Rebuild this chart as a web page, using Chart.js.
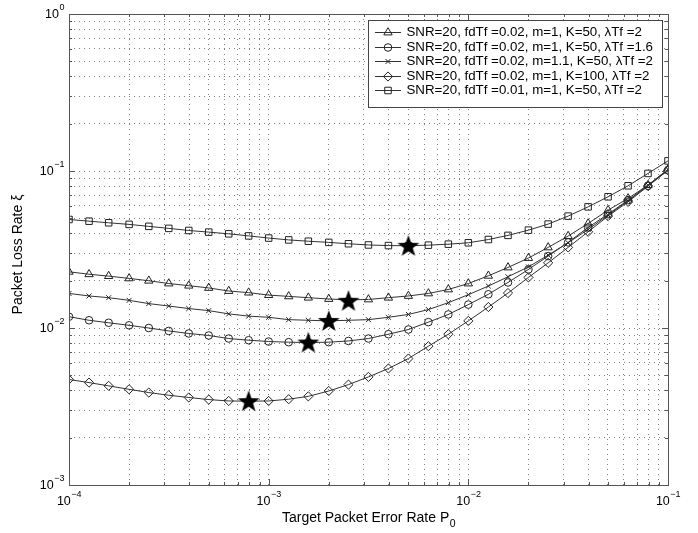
<!DOCTYPE html>
<html><head><meta charset="utf-8">
<script src="https://cdn.jsdelivr.net/npm/chart.js@4.4.1/dist/chart.umd.min.js"></script>
<style>html,body{margin:0;padding:0;background:#fff;}</style>
</head><body>
<canvas id="c" width="698" height="533"></canvas>
<script>
// ---- data ----
const P0 = [1.00e-4,1.26e-4,1.58e-4,2.00e-4,2.51e-4,3.16e-4,3.98e-4,5.01e-4,6.31e-4,7.94e-4,
  1.00e-3,1.26e-3,1.58e-3,2.00e-3,2.51e-3,3.16e-3,3.98e-3,5.01e-3,6.31e-3,7.94e-3,
  1.00e-2,1.26e-2,1.58e-2,2.00e-2,2.51e-2,3.16e-2,3.98e-2,5.01e-2,6.31e-2,7.94e-2,1.00e-1];
const seriesLabels = [
  "SNR=20, fdTf =0.02, m=1, K=50, \u03bbTf =2",
  "SNR=20, fdTf =0.02, m=1, K=50, \u03bbTf =1.6",
  "SNR=20, fdTf =0.02, m=1.1, K=50, \u03bbTf =2",
  "SNR=20, fdTf =0.02, m=1, K=100, \u03bbTf =2",
  "SNR=20, fdTf =0.01, m=1, K=50, \u03bbTf =2"
];
const lossTriangle = [0.0228,0.0220,0.0214,0.0207,0.0200,0.0192,0.0186,0.0180,0.0172,0.0168,
  0.0162,0.0159,0.0156,0.0153,0.0151,0.0152,0.0156,0.0160,0.0166,0.0176,
  0.0192,0.0215,0.0243,0.0279,0.0326,0.0385,0.0463,0.0563,0.0669,0.0813,0.1024];
const lossCircle = [0.0118,0.0112,0.0108,0.0104,0.0100,0.00958,0.00923,0.00896,0.00857,0.00836,
  0.0082,0.00812,0.00808,0.00812,0.00827,0.00857,0.00913,0.00978,0.0109,0.0122,
  0.0141,0.0164,0.0195,0.0236,0.0287,0.0351,0.0437,0.0531,0.0652,0.0805,0.1010];
const lossCross = [0.0166,0.0160,0.0156,0.0150,0.0143,0.0138,0.0133,0.0129,0.0123,0.0119,
  0.0117,0.0113,0.0112,0.0111,0.0112,0.0113,0.0117,0.0122,0.0131,0.0145,
  0.0163,0.0185,0.0212,0.0245,0.0291,0.0349,0.0424,0.0524,0.0646,0.0813,0.1024];
const lossDiamond = [0.00470,0.00449,0.00428,0.00407,0.00388,0.00373,0.00361,0.00350,0.00343,0.00342,
  0.00343,0.00352,0.00367,0.00397,0.00436,0.00488,0.00552,0.00639,0.00766,0.00913,
  0.0111,0.0136,0.0167,0.0210,0.0260,0.0326,0.0410,0.0516,0.0636,0.0801,0.1013];
const lossSquare = [0.0491,0.0479,0.0468,0.0457,0.0444,0.0431,0.0418,0.0408,0.0398,0.0386,
  0.0374,0.0364,0.0357,0.0351,0.0344,0.0338,0.0335,0.0334,0.0337,0.0342,
  0.0349,0.0366,0.0389,0.0420,0.0459,0.0516,0.0591,0.0685,0.0805,0.0965,0.116];
const optimumP0 = [2.51e-3, 1.58e-3, 2.00e-3, 7.94e-4, 5.01e-3];
const optimumLoss = [0.0149, 0.00808, 0.0111, 0.00342, 0.0334];
const xDecades = [-4, -3, -2, -1];
const yDecades = [-3, -2, -1, 0];
const minorMultipliers = [1,2,3,4,5,6,7,8,9];

// ---- styles ----
const FONT = '"Liberation Sans", Arial, Helvetica, sans-serif';
const LINE = '#333';
const MARK = '#222';
const markerStyles = [
  {pointStyle:'triangle', radius:4.8},
  {pointStyle:'circle', radius:3.8},
  {pointStyle:'crossRot', radius:3.5},
  {pointStyle:'rectRot', radius:4.6},
  {pointStyle:'rect', radius:4.6}
];
const seriesValues = [lossTriangle, lossCircle, lossCross, lossDiamond, lossSquare];

// filled star marker image
const starImg = document.createElement('canvas');
starImg.width = 24; starImg.height = 24;
(function(){
  const g = starImg.getContext('2d');
  g.fillStyle = '#000';
  g.beginPath();
  const R = 11.5, r = 4.6, cx = 12, cy = 12.8;
  for (let i = 0; i < 10; i++) {
    const a = -Math.PI/2 + i*Math.PI/5;
    const rr = i % 2 === 0 ? R : r;
    const px = cx + rr*Math.cos(a), py = cy + rr*Math.sin(a);
    if (i === 0) g.moveTo(px, py); else g.lineTo(px, py);
  }
  g.closePath(); g.fill();
})();

function tickValues(decades) {
  const out = [];
  for (let i = 0; i < decades.length - 1; i++)
    for (const m of minorMultipliers) out.push(m * Math.pow(10, decades[i]));
  out.push(Math.pow(10, decades[decades.length - 1]));
  return out;
}

const datasets = [{
  label: 'optimum', data: optimumP0.map((x,i)=>({x, y: optimumLoss[i]})),
  showLine: false, pointStyle: starImg, pointRadius: 12, order: -1
}];
seriesValues.forEach((vals, s) => {
  datasets.push({
    label: seriesLabels[s],
    data: P0.map((x,i)=>({x, y: vals[i]})),
    borderColor: LINE, borderWidth: 1, tension: 0, fill: false,
    pointStyle: markerStyles[s].pointStyle, pointRadius: markerStyles[s].radius,
    pointBorderColor: MARK, pointBackgroundColor: 'rgba(0,0,0,0)', pointBorderWidth: 1
  });
});

function drawSupLabel(ctx, base, exp, x, y, align) {
  ctx.font = '12.5px ' + FONT;
  const wb = ctx.measureText(base).width;
  ctx.font = '9px ' + FONT;
  const we = ctx.measureText(exp).width;
  let x0 = align === 'center' ? x - (wb + we)/2 : x - (wb + we);
  ctx.textAlign = 'left'; ctx.textBaseline = 'middle';
  ctx.font = '12.5px ' + FONT; ctx.fillText(base, x0, y);
  ctx.font = '9px ' + FONT; ctx.fillText(exp, x0 + wb + 0.5, y - 7);
}

const decor = {
  id: 'decor',
  afterDraw(chart) {
    const ctx = chart.ctx, a = chart.chartArea;
    const xs = chart.scales.x, ys = chart.scales.y;
    ctx.save();
    // frame
    ctx.strokeStyle = '#555'; ctx.lineWidth = 1;
    ctx.strokeRect(Math.round(a.left)+0.5, Math.round(a.top)+0.5, Math.round(a.right-a.left), Math.round(a.bottom-a.top));
    // inward ticks
    ctx.beginPath();
    xs.ticks.forEach(t => {
      const px = Math.round(xs.getPixelForValue(t.value)) + 0.5;
      const major = xDecades.some(d => Math.abs(Math.log10(t.value) - d) < 1e-9);
      const L = major ? 6 : 3;
      ctx.moveTo(px, a.bottom); ctx.lineTo(px, a.bottom - L);
      ctx.moveTo(px, a.top); ctx.lineTo(px, a.top + L);
    });
    ys.ticks.forEach(t => {
      const py = Math.round(ys.getPixelForValue(t.value)) + 0.5;
      const major = yDecades.some(d => Math.abs(Math.log10(t.value) - d) < 1e-9);
      const L = major ? 6 : 3;
      ctx.moveTo(a.left, py); ctx.lineTo(a.left + L, py);
      ctx.moveTo(a.right, py); ctx.lineTo(a.right - L, py);
    });
    ctx.stroke();
    // tick labels
    ctx.fillStyle = '#000';
    xDecades.forEach(d => {
      const px = xs.getPixelForValue(Math.pow(10, d));
      drawSupLabel(ctx, '10', '\u2212' + Math.abs(d), px, a.bottom + 17, 'center');
    });
    yDecades.forEach(d => {
      const py = ys.getPixelForValue(Math.pow(10, d));
      drawSupLabel(ctx, '10', d < 0 ? '\u2212' + Math.abs(d) : String(d), a.left - 5, py + 1, 'right');
    });
    // axis titles
    const TF = '14px ' + FONT;
    ctx.font = TF;
    ctx.textBaseline = 'middle';
    const xt = 'Target Packet Error Rate P';
    const wxt = ctx.measureText(xt).width;
    ctx.font = '10.5px ' + FONT;
    const wsub = ctx.measureText('0').width;
    const xc = (a.left + a.right)/2;
    const x0 = xc - (wxt + wsub)/2;
    ctx.font = TF; ctx.textAlign = 'left';
    ctx.fillText(xt, x0, 518);
    ctx.font = '10.5px ' + FONT; ctx.fillText('0', x0 + wxt + 0.5, 524);
    ctx.save();
    ctx.translate(18, (a.top + a.bottom)/2 + 5);
    ctx.rotate(-Math.PI/2);
    ctx.font = TF; ctx.textAlign = 'center';
    ctx.fillText('Packet Loss Rate \u03be', 0, 0);
    ctx.restore();
    // legend
    const L = {x: 368, y: 20, w: 294, h: 87};
    ctx.fillStyle = '#fff';
    ctx.fillRect(L.x, L.y, L.w, L.h);
    ctx.strokeStyle = '#444';
    ctx.strokeRect(L.x + 0.5, L.y + 0.5, L.w, L.h);
    seriesLabels.forEach((lab, i) => {
      const ry = 32 + i * 14.5;
      ctx.strokeStyle = LINE; ctx.lineWidth = 1;
      ctx.beginPath(); ctx.moveTo(375, Math.round(ry)+0.5); ctx.lineTo(401, Math.round(ry)+0.5); ctx.stroke();
      ctx.strokeStyle = MARK; ctx.fillStyle = 'rgba(0,0,0,0)';
      Chart.helpers.drawPoint(ctx, {pointStyle: markerStyles[i].pointStyle, radius: markerStyles[i].radius, borderWidth: 1, rotation: 0}, 388, Math.round(ry)+0.5);
      ctx.fillStyle = '#000';
      ctx.font = '13.3px ' + FONT; ctx.textAlign = 'left'; ctx.textBaseline = 'middle';
      ctx.fillText(lab, 406.5, ry + 0.5);
    });
    ctx.restore();
  }
};

new Chart(document.getElementById('c'), {
  type: 'line',
  data: { datasets },
  options: {
    responsive: false, animation: false, devicePixelRatio: 1,
    layout: { padding: { top: 14, right: 30, left: 0, bottom: 0 } },
    plugins: { legend: { display: false }, tooltip: { enabled: false } },
    scales: {
      x: {
        type: 'logarithmic', min: 1e-4, max: 1e-1,
        afterBuildTicks: s => { s.ticks = tickValues(xDecades).map(v => ({value: v})); },
        afterFit: s => { s.height = 48; },
        ticks: { display: false },
        grid: { color: '#808080', lineWidth: 1, drawTicks: false },
        border: { display: false, dash: [1, 4] }
      },
      y: {
        type: 'logarithmic', min: 1e-3, max: 1,
        afterBuildTicks: s => { s.ticks = tickValues(yDecades).map(v => ({value: v})); },
        afterFit: s => { s.width = 69; },
        ticks: { display: false },
        grid: { color: '#808080', lineWidth: 1, drawTicks: false },
        border: { display: false, dash: [1, 4] }
      }
    }
  },
  plugins: [decor]
});
</script>
</body></html>
